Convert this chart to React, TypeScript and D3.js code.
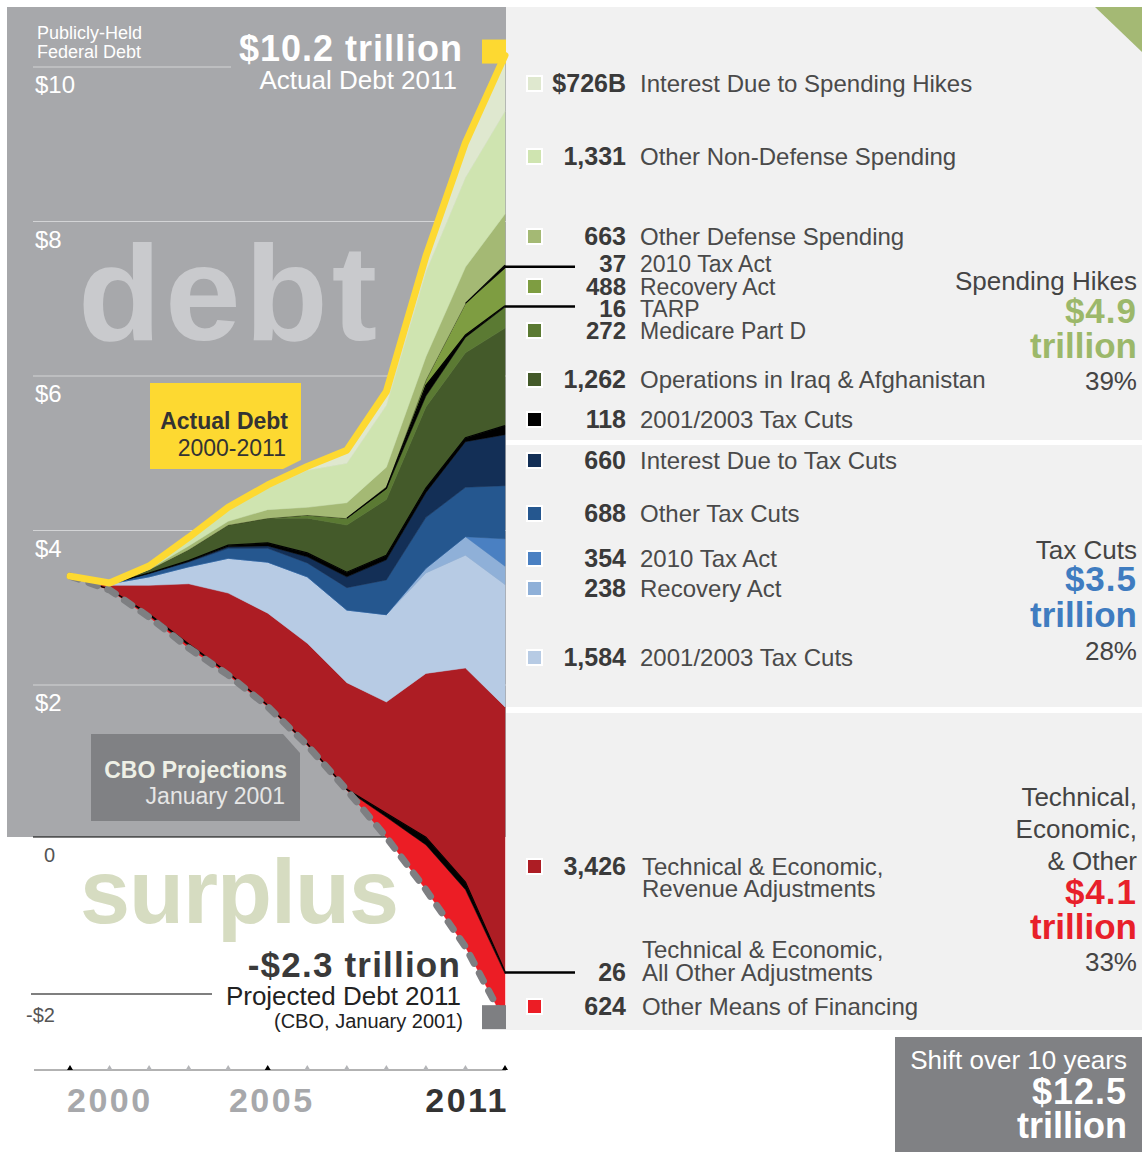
import React, { useEffect, useRef } from 'react';
import * as d3 from 'd3';

const YEARS = [2000, 2001, 2002, 2003, 2004, 2005, 2006, 2007, 2008, 2009, 2010, 2011];

// publicly-held federal debt, $ trillions
const ACTUAL_DEBT = [3.41, 3.32, 3.54, 3.91, 4.30, 4.59, 4.83, 5.04, 5.80, 7.55, 9.02, 10.15];
const PROJECTED_DEBT = [3.41, 3.23, 2.88, 2.48, 2.13, 1.72, 1.22, 0.64, 0.03, -0.65, -1.39, -2.36];

// components of the shift, $ trillions, stacked from the projection upwards
const OTHER_FINANCING = [0, 0.005, 0.02, 0.03, 0.02, 0.01, 0.01, 0, 0.26, 0.58, 0.74, 0.624];
const OTHER_ADJUSTMENTS = [0, 0.005, 0.02, 0.02, 0.01, 0.01, 0.01, 0.01, 0.05, 0.10, 0.10, 0.026];
const REVENUE_ADJUSTMENTS = [0, 0.05, 0.37, 0.78, 1.03, 1.19, 1.30, 1.38, 1.44, 2.12, 2.77, 3.426];
const TAX_CUTS_2001_2003 = [0, 0.02, 0.11, 0.22, 0.45, 0.66, 0.86, 0.94, 1.13, 1.30, 1.46, 1.584];
const TAX_RECOVERY_ACT = [0, 0, 0, 0, 0, 0, 0, 0, 0, 0.06, 0.24, 0.238];
const TAX_ACT_2010 = [0, 0, 0, 0, 0, 0, 0, 0, 0, 0, 0, 0.354];
const OTHER_TAX_CUTS = [0, 0, 0.04, 0.06, 0.13, 0.18, 0.18, 0.29, 0.45, 0.66, 0.64, 0.688];
const TAX_CUT_INTEREST = [0, 0, 0.005, 0.01, 0.02, 0.03, 0.08, 0.14, 0.26, 0.32, 0.59, 0.660];
const TAX_CUTS_SPENDING = [0, 0, 0.005, 0.01, 0.02, 0.04, 0.05, 0.06, 0.06, 0.06, 0.05, 0.118];
const IRAQ_AFGHANISTAN = [0, 0, 0.04, 0.14, 0.26, 0.32, 0.45, 0.61, 0.72, 1.05, 1.10, 1.262];
const MEDICARE_PART_D = [0, 0, 0, 0, 0, 0, 0.04, 0.09, 0.14, 0.14, 0.20, 0.272];
const TARP = [0, 0, 0, 0, 0, 0, 0, 0, 0.01, 0.14, 0.03, 0.016];
const SPEND_RECOVERY_ACT = [0, 0, 0, 0, 0, 0, 0, 0, 0.02, 0.07, 0.41, 0.488];
const SPEND_ACT_2010 = [0, 0, 0, 0, 0, 0, 0, 0, 0, 0, 0, 0.037];
const OTHER_DEFENSE = [0, 0, 0.01, 0.05, 0.05, 0.11, 0.10, 0.20, 0.25, 0.30, 0.47, 0.663];
const OTHER_NON_DEFENSE = [0, 0.01, 0.04, 0.10, 0.15, 0.28, 0.48, 0.51, 0.80, 1.10, 1.16, 1.331];
const SPENDING_INTEREST = [0, 0, 0, 0.01, 0.03, 0.04, 0.05, 0.17, 0.18, 0.20, 0.45, 0.726];

const SERIES = [
  OTHER_FINANCING, OTHER_ADJUSTMENTS, REVENUE_ADJUSTMENTS,
  TAX_CUTS_2001_2003, TAX_RECOVERY_ACT, TAX_ACT_2010, OTHER_TAX_CUTS, TAX_CUT_INTEREST,
  TAX_CUTS_SPENDING, IRAQ_AFGHANISTAN, MEDICARE_PART_D, TARP, SPEND_RECOVERY_ACT,
  SPEND_ACT_2010, OTHER_DEFENSE, OTHER_NON_DEFENSE, SPENDING_INTEREST,
];

const SERIES_NAMES = [
  ['Other Means of Financing'],
  ['Technical & Economic,', 'All Other Adjustments'],
  ['Technical & Economic,', 'Revenue Adjustments'],
  ['2001/2003 Tax Cuts'], ['Recovery Act'], ['2010 Tax Act'], ['Other Tax Cuts'], ['Interest Due to Tax Cuts'],
  ['2001/2003 Tax Cuts'], ['Operations in Iraq & Afghanistan'], ['Medicare Part D'], ['TARP'], ['Recovery Act'],
  ['2010 Tax Act'], ['Other Defense Spending'], ['Other Non-Defense Spending'], ['Interest Due to Spending Hikes'],
];

const SERIES_COLORS = [
  '#ec1d25', '#000000', '#ad1d24',
  '#b7cbe4', '#8fb0d8', '#4a80c2', '#25578f', '#132f56',
  '#000000', '#445a2a', '#5b7a33', '#000000', '#7e9d41', '#000000', '#a4b974', '#cfe4b0', '#dfe8cf',
];

// which series belong to which group (technical, tax cuts, spending hikes)
const GROUPS = [[0, 1, 2], [3, 4, 5, 6, 7], [8, 9, 10, 11, 12, 13, 14, 15, 16]];
const GROUP_TITLES = [['Technical,', 'Economic,', '& Other'], ['Tax Cuts'], ['Spending Hikes']];
const GROUP_COLORS = ['#e8202a', '#3f7cc0', '#9cb86a'];

const Y_TICKS = [2, 4, 6, 8, 10];
const X_LABELS = [2000, 2005, 2011];

const W = 1142;
const H = 1152;
const FONT = '"Liberation Sans", Arial, Helvetica, sans-serif';

const App = () => {
  const svgRef = useRef(null);

  useEffect(() => {
    document.body.style.margin = '0';
    const svg = d3.select(svgRef.current);
    svg.selectAll('*').remove();
    svg.attr('width', W).attr('height', H).attr('font-family', FONT);

    const x = d3.scaleLinear().domain([2000, 2011]).range([70, 505]);
    const y = d3.scaleLinear().domain([0, 10]).range([839.5, 67]);

    const text = (t, tx, ty, size, o: any = {}) =>
      svg.append('text')
        .attr('x', tx).attr('y', ty)
        .attr('font-size', size)
        .attr('font-weight', o.weight || 'normal')
        .attr('fill', o.fill || '#444')
        .attr('text-anchor', o.anchor || 'start')
        .attr('letter-spacing', o.ls || 0)
        .text(t);

    svg.append('rect').attr('width', W).attr('height', H).attr('fill', '#fff');

    // gray chart panel (debt side)
    svg.append('rect')
      .attr('x', 7).attr('y', 7)
      .attr('width', 499).attr('height', y(0) - 2.5 - 7)
      .attr('fill', '#a7a8ab');

    // right legend panel
    svg.append('rect').attr('x', 506).attr('y', 7).attr('width', W - 506).attr('height', 1023).attr('fill', '#f1f1f1');
    svg.append('rect').attr('x', 506).attr('y', 440).attr('width', W - 506).attr('height', 5).attr('fill', '#fff');
    svg.append('rect').attr('x', 506).attr('y', 707).attr('width', W - 506).attr('height', 6).attr('fill', '#fff');
    svg.append('path').attr('d', 'M1095,7L1142,7L1142,52Z').attr('fill', '#a4b974');

    // gridlines + labels
    Y_TICKS.forEach(v => {
      svg.append('line')
        .attr('x1', 33).attr('x2', v === 10 ? 231 : 506)
        .attr('y1', y(v)).attr('y2', y(v))
        .attr('stroke', '#d3d4d6').attr('stroke-width', 1.2);
      text(`$${v}`, 35, y(v) + 26, 24, { fill: '#fff' });
    });

    text('Publicly-Held', 37, 39, 18, { fill: '#fff' });
    text('Federal Debt', 37, 58, 18, { fill: '#fff' });
    text('$10.2 trillion', 463, 61, 36, { fill: '#fff', weight: 'bold', anchor: 'end', ls: 1 });
    text('Actual Debt 2011', 457, 89, 26, { fill: '#fff', anchor: 'end' });

    text('debt', 78, 340, 136, { fill: '#c9cacd', weight: 'bold', ls: 4 });
    text('surplus', 80, 923, 90, { fill: '#d6dcc1', weight: 'bold', ls: -1 });

    // zero and -$2 lines
    svg.append('line').attr('x1', 33).attr('x2', x(2008)).attr('y1', y(0) - 2.5).attr('y2', y(0) - 2.5)
      .attr('stroke', '#000').attr('stroke-width', 1.2);
    text('0', 44, 862, 20, { fill: '#555' });
    svg.append('line').attr('x1', 31).attr('x2', 212).attr('y1', y(-2)).attr('y2', y(-2))
      .attr('stroke', '#000').attr('stroke-width', 1.2);
    text('-$2', 26, 1022, 20, { fill: '#555' });

    // callout boxes
    svg.append('path').attr('d', 'M150,383H301V460L283,469H150Z').attr('fill', '#fdd931');
    text('Actual Debt', 288, 429, 23, { fill: '#333', weight: 'bold', anchor: 'end' });
    text('2000-2011', 286, 456, 23, { fill: '#333', anchor: 'end' });

    svg.append('path').attr('d', 'M91,734H283L300,753V821H91Z').attr('fill', '#808184');
    text('CBO Projections', 287, 778, 23, { fill: '#eef0e6', weight: 'bold', anchor: 'end' });
    text('January 2001', 285, 804, 23, { fill: '#e6e6e6', anchor: 'end' });

    // stacked layers on top of the CBO projection
    const table = YEARS.map((yr, i) => {
      const row: any = { year: yr, base: PROJECTED_DEBT[i] };
      SERIES.forEach((s, k) => { row[`s${k}`] = s[i]; });
      return row;
    });
    const stacked = d3.stack().keys(SERIES.map((_, k) => `s${k}`))(table);

    const area = d3.area()
      .x((d: any) => x(d.data.year))
      .y0((d: any) => y(d.data.base + d[0]))
      .y1((d: any) => y(d.data.base + d[1]));

    const layers = svg.append('g');
    stacked.forEach((layer, k) => {
      layers.append('path')
        .attr('d', area(layer as any))
        .attr('fill', SERIES_COLORS[k])
        .attr('stroke', SERIES_COLORS[k])
        .attr('stroke-width', 0.5);
    });

    // thin black series also show as a hairline once they start
    stacked.forEach((layer, k) => {
      if (SERIES_COLORS[k] !== '#000000') return;
      const vals = SERIES[k];
      const top = d3.line()
        .defined((d: any, i) => vals[i] > 0 || (i < vals.length - 1 && vals[i + 1] > 0))
        .x((d: any) => x(d.data.year))
        .y((d: any) => y(d.data.base + d[1]));
      layers.append('path')
        .attr('d', top(layer as any))
        .attr('fill', 'none')
        .attr('stroke', '#000')
        .attr('stroke-width', 1.2);
    });

    // projected debt (dashed)
    const line = d3.line().x((d: any, i) => x(YEARS[i])).y((d: any) => y(d));
    svg.append('path')
      .attr('d', line(PROJECTED_DEBT as any))
      .attr('fill', 'none')
      .attr('stroke', '#7e7f82')
      .attr('stroke-width', 7)
      .attr('stroke-linecap', 'round')
      .attr('stroke-dasharray', '9,11');
    svg.append('rect')
      .attr('x', x(2011) - 23).attr('y', y(-2.3) - 12)
      .attr('width', 24).attr('height', 24)
      .attr('fill', '#7e7f82');

    // actual debt (yellow)
    svg.append('path')
      .attr('d', line(ACTUAL_DEBT as any))
      .attr('fill', 'none')
      .attr('stroke', '#fdd931')
      .attr('stroke-width', 7)
      .attr('stroke-linecap', 'round')
      .attr('stroke-linejoin', 'round');
    svg.append('rect')
      .attr('x', x(2011) - 23).attr('y', y(10.2) - 12)
      .attr('width', 24).attr('height', 24)
      .attr('fill', '#fdd931');

    text('-$2.3 trillion', 461, 977, 35, { fill: '#3a3a3a', weight: 'bold', anchor: 'end', ls: 1.2 });
    text('Projected Debt 2011', 461, 1005, 26, { fill: '#222', anchor: 'end' });
    text('(CBO, January 2001)', 463, 1028, 20, { fill: '#222', anchor: 'end' });

    // x axis
    svg.append('line').attr('x1', 34).attr('x2', 506).attr('y1', 1070).attr('y2', 1070)
      .attr('stroke', '#666').attr('stroke-width', 1);
    YEARS.forEach(yr => {
      const tx = x(yr);
      svg.append('path')
        .attr('d', `M${tx - 3},1070L${tx},1065L${tx + 3},1070Z`)
        .attr('fill', X_LABELS.includes(yr) ? '#000' : '#b4b5b8');
    });
    X_LABELS.forEach((yr, i) => {
      const last = i === X_LABELS.length - 1;
      const anchor = i === 0 ? 'start' : last ? 'end' : 'middle';
      const tx = i === 0 ? x(yr) - 3 : x(yr) + 4;
      text(String(yr), tx, 1112, 34, { fill: last ? '#333' : '#a7a8ab', weight: 'bold', anchor, ls: 2.5 });
    });

    // legend rows, top to bottom
    const fmt = d3.format(',');
    const baselines = [92, 165, 245, 272, 295, 317, 339, 388, 428, 469, 522, 567, 597, 666, 875, 981, 1015];
    const tight = [3, 4, 5, 6];
    const order = d3.range(SERIES.length).reverse();
    order.forEach((k, row) => {
      const b = baselines[row];
      const v = SERIES[k][SERIES[k].length - 1];
      const n = fmt(Math.round(v * 1000));
      const amount = row === 0 ? `$${n}B` : n;
      const names = SERIES_NAMES[k];
      const numberOnLast = names.length > 1 && k === 1;
      const labelX = k <= 2 ? 642 : 640;
      const isLine = k === 1 || k === 11 || k === 13;
      const numSize = tight.includes(row) ? 24 : 25;
      const labSize = tight.includes(row) ? 23 : 24;

      if (isLine) {
        const s = stacked[k][YEARS.length - 1] as any;
        const ly = y(s.data.base + (s[0] + s[1]) / 2);
        svg.append('line').attr('x1', 505).attr('x2', 575).attr('y1', ly).attr('y2', ly)
          .attr('stroke', '#000').attr('stroke-width', 2.5);
      } else {
        svg.append('rect')
          .attr('x', 527).attr('y', b - 16)
          .attr('width', 15).attr('height', 15)
          .attr('fill', SERIES_COLORS[k])
          .attr('stroke', '#fff').attr('stroke-width', 2);
      }

      text(amount, 626, b, numSize, { fill: '#3a3a3a', weight: 'bold', anchor: 'end' });
      if (names.length === 1) {
        text(names[0], labelX, b, labSize, { fill: '#4a4a4a' });
      } else if (numberOnLast) {
        text(names[0], labelX, b - 23, labSize, { fill: '#4a4a4a' });
        text(names[1], labelX, b, labSize, { fill: '#4a4a4a' });
      } else {
        text(names[0], labelX, b, labSize, { fill: '#4a4a4a' });
        text(names[1], labelX, b + 22, labSize, { fill: '#4a4a4a' });
      }
    });

    // group totals on the right
    const total = d3.sum(SERIES, s => s[s.length - 1]);
    const groupBase = [
      { titles: [806, 838, 870], amount: 904, word: 939, pct: 971 },
      { titles: [559], amount: 591, word: 627, pct: 660 },
      { titles: [290], amount: 323, word: 358, pct: 390 },
    ];
    GROUPS.forEach((g, gi) => {
      const sum = d3.sum(g, k => SERIES[k][SERIES[k].length - 1]);
      const pos = groupBase[gi];
      GROUP_TITLES[gi].forEach((t, ti) => text(t, 1137, pos.titles[ti], 26, { fill: '#444', anchor: 'end' }));
      text(`$${sum.toFixed(1)}`, 1137, pos.amount, 35, { fill: GROUP_COLORS[gi], weight: 'bold', anchor: 'end', ls: 1 });
      text('trillion', 1137, pos.word, 35, { fill: GROUP_COLORS[gi], weight: 'bold', anchor: 'end' });
      text(`${Math.round((sum / total) * 100)}%`, 1137, pos.pct, 26, { fill: '#444', anchor: 'end' });
    });

    // shift total box
    svg.append('rect').attr('x', 895).attr('y', 1037).attr('width', W - 895).attr('height', H - 1037).attr('fill', '#808184');
    text('Shift over 10 years', 1127, 1069, 26, { fill: '#fff', anchor: 'end' });
    text(`$${total.toFixed(1)}`, 1127, 1104, 36, { fill: '#fff', weight: 'bold', anchor: 'end', ls: 1 });
    text('trillion', 1127, 1138, 36, { fill: '#fff', weight: 'bold', anchor: 'end' });
  }, []);

  return (
    <div style={{ width: W, height: H }}>
      <svg ref={svgRef} style={{ display: 'block' }}></svg>
    </div>
  );
};

export default App;
